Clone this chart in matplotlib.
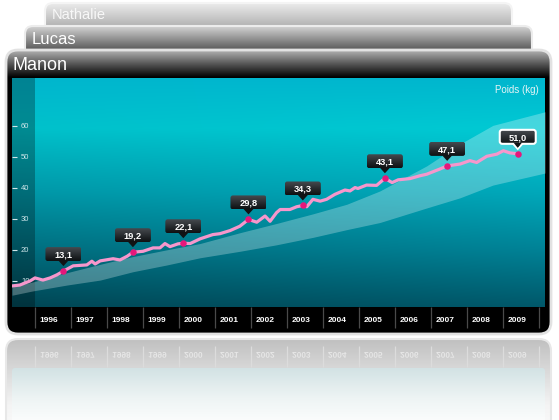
import numpy as np
import matplotlib
matplotlib.use('Agg')
import matplotlib.pyplot as plt
from matplotlib.patches import FancyBboxPatch, Polygon, PathPatch
from matplotlib.colors import LinearSegmentedColormap
from matplotlib.textpath import TextPath
from matplotlib.font_manager import FontProperties
from matplotlib.transforms import Affine2D

plt.rcParams['font.family'] = ['Liberation Sans', 'DejaVu Sans']

# ---- data -------------------------------------------------------------
tabs = ['Nathalie', 'Lucas', 'Manon']
years = list(range(1996, 2010))
year_labels = [str(y) for y in years]
yticks = [10, 20, 30, 40, 50, 60]

weight_x = [1995.36, 1995.58, 1995.86, 1996.00, 1996.22, 1996.42, 1996.61, 1996.79,
            1997.06, 1997.44, 1997.58, 1997.67, 1997.81, 1998.17, 1998.36, 1998.56,
            1998.72, 1999.00, 1999.28, 1999.47, 1999.61, 1999.75, 1999.97, 2000.12,
            2000.31, 2000.58, 2000.94, 2001.14, 2001.42, 2001.69, 2001.93, 2002.16,
            2002.39, 2002.53, 2002.71, 2002.81, 2003.08, 2003.27, 2003.44, 2003.55,
            2003.72, 2003.92, 2004.10, 2004.33, 2004.61, 2004.75, 2004.89, 2004.97,
            2005.21, 2005.49, 2005.72, 2005.92, 2006.09, 2006.42, 2006.69, 2006.88,
            2007.25, 2007.45, 2007.81, 2008.08, 2008.27, 2008.55, 2008.83, 2009.01,
            2009.19, 2009.41]
weight_y = [8.3, 8.6, 9.9, 10.9, 10.2, 10.9, 11.9, 13.1,
            14.8, 15.1, 16.3, 15.4, 16.4, 17.1, 16.7, 17.9,
            19.2, 19.5, 20.6, 20.6, 22.0, 21.0, 21.9, 22.1,
            22.0, 23.5, 24.9, 25.2, 26.2, 27.6, 29.8, 28.9,
            30.9, 29.2, 32.0, 33.0, 33.0, 33.9, 34.3, 33.9,
            36.3, 35.7, 36.3, 37.9, 39.3, 39.0, 40.1, 39.8,
            40.9, 40.8, 43.1, 41.7, 42.6, 43.0, 43.9, 44.4,
            46.1, 47.1, 47.7, 48.8, 48.2, 50.2, 50.9, 52.0,
            51.3, 51.0]

mark_x = [1996.79, 1998.72, 2000.12, 2001.93, 2003.44, 2005.72, 2007.45, 2009.41]
mark_y = [13.1, 19.2, 22.1, 29.8, 34.3, 43.1, 47.1, 51.0]
mark_labels = ['13,1', '19,2', '22,1', '29,8', '34,3', '43,1', '47,1', '51,0']

band_x = [1995.36, 1995.94, 1996.89, 1997.81, 1998.72, 1999.67, 2000.58, 2001.69,
          2002.71, 2003.72, 2004.66, 2005.58, 2006.88, 2007.81, 2008.72, 2010.17]
band_low = [5.3, 6.7, 8.6, 10.2, 12.9, 15.1, 17.4, 19.5,
            21.6, 24.0, 26.5, 28.8, 33.5, 36.8, 40.9, 44.8]
band_high = [8.0, 9.6, 12.6, 15.3, 17.8, 20.0, 22.0, 25.5,
             28.5, 31.6, 34.7, 39.0, 47.1, 54.2, 60.2, 64.6]

W, H = 559, 420
fig = plt.figure(figsize=(W / 100, H / 100), dpi=100)
fig.patch.set_facecolor('white')

bg = fig.add_axes([0, 0, 1, 1], zorder=0)
bg.axis('off')


def gradient_box(axis, x, y, w, h, r, stops, z, ec='none', lw=0):
    box = FancyBboxPatch((x, y), w, h, boxstyle=f'round,pad=0,rounding_size={r}',
                         fc='none', ec=ec, lw=lw, zorder=z + 0.5)
    axis.add_patch(box)
    cmap = LinearSegmentedColormap.from_list('g', stops)
    im = axis.imshow(np.linspace(0, 1, 256)[:, None], cmap=cmap, aspect='auto',
                     extent=(x, x + w, y + h, y), zorder=z, interpolation='bilinear')
    im.set_clip_path(box)
    return box


# tabs behind
gradient_box(bg, 45, 3, 467, 40, 8, [(0, '#ececec'), (0.58, '#b2b2b2'), (1, '#a0a0a0')],
             1, ec='#f4f4f4', lw=1.5)
bg.text(52, 15, tabs[0], color='#f8f8f8', fontsize=10.5, va='center', zorder=1.8)
gradient_box(bg, 25, 26, 507, 40, 8, [(0, '#d4d4d4'), (0.6, '#585858'), (1, '#444444')],
             2, ec='#ececec', lw=1.5)
bg.text(32, 40, tabs[1], color='white', fontsize=12, va='center', zorder=2.8)

# main frame
gradient_box(bg, 6, 50, 545, 284, 12,
             [(0, '#b0b0b0'), (0.045, '#5a5a5a'), (0.095, '#000000'), (1, '#000000')],
             3, ec='#e2e2e2', lw=2)
bg.text(12, 65, tabs[2], color='white', fontsize=13, va='center', zorder=3.8)

# reflection under the frame
gradient_box(bg, 6, 339, 545, 110, 12,
             [(0, '#c0c0c0'), (0.27, '#d8d8d8'), (0.6, '#f4f4f4'), (1, '#ffffff')],
             1, ec='#e8e8e8', lw=1.5)
gradient_box(bg, 12, 368, 533, 60, 3,
             [(0, '#d2e2e4'), (0.5, '#eef4f4'), (1, '#ffffff')], 1.6)

# ---- chart axes -------------------------------------------------------
ax = fig.add_axes([12 / W, 1 - 307 / H, 533 / W, 229 / H], zorder=2)
xmin, xmax = 1995.361, 2010.167
ymin, ymax = 1.5, 75.5

nh, nw = 230, 533
wv = np.linspace(0, 1, nh)[:, None]
uv = np.linspace(0, 1, nw)[None, :]
stops_w = [0, 0.22, 0.5, 0.75, 1.0]
g = np.interp(wv, stops_w, [182, 202, 168, 130, 88])
b = np.interp(wv, stops_w, [206, 212, 186, 150, 106])
fac = 1 - 0.2 * (1 - uv) * wv
rgb = np.zeros((nh, nw, 3))
rgb[..., 1] = g * fac / 255
rgb[..., 2] = b * fac / 255
ax.imshow(rgb, extent=(0, 1, 0, 1), transform=ax.transAxes, aspect='auto',
          zorder=0, interpolation='bilinear')

ax.axvspan(xmin, 1996, color='black', alpha=0.28, lw=0, zorder=1)
ax.fill_between(band_x, band_low, band_high, color='white', alpha=0.27, lw=0, zorder=2)
ax.plot(weight_x, weight_y, color='#f697cc', lw=2.3, zorder=3,
        solid_capstyle='round', solid_joinstyle='round')
ax.scatter(mark_x, mark_y, s=22, color='#e5177b', zorder=4, linewidths=0)

ax.set_xlim(xmin, xmax)
ax.set_ylim(ymin, ymax)
for s in ax.spines.values():
    s.set_visible(False)

ax.set_yticks(yticks)
ax.tick_params(axis='y', direction='in', length=3.6, width=0.8, color='#cfe6ea',
               labelcolor='#cfe6ea', labelsize=5.5, pad=-6.5)
for t in ax.get_yticklabels():
    t.set_horizontalalignment('left')

ax.set_xticks(list(range(1996, 2011)), labels=[''] * 15)
ax.set_xticks([y + 0.39 for y in years], labels=year_labels, minor=True)
ax.tick_params(axis='x', which='major', direction='out', length=15, width=0.9,
               color='#4a4a4a')
ax.tick_params(axis='x', which='minor', length=0, pad=7.5, labelsize=6,
               labelcolor='white')
for t in ax.get_xticklabels(minor=True):
    t.set_fontweight('bold')

ax.text(0.989, 0.948, 'Poids (kg)', transform=ax.transAxes, ha='right', va='center',
        color='#e6f4f6', fontsize=7)


def to_px(x, y):
    dx, dy = ax.transData.transform((x, y))
    return dx, H - dy


# mirrored year labels in the reflection
fp = FontProperties(family='Liberation Sans', weight='bold')
for yr in range(1996, 2011):
    sx, _ = to_px(yr, ymin)
    bg.vlines(sx, 346, 367, color='#dcdcdc', lw=0.9, zorder=1.7)
for yr, lab in zip(years, year_labels):
    cx, _ = to_px(yr + 0.39, ymin)
    tp = TextPath((0, 0), lab, size=8.3, prop=fp)
    wtp = tp.get_extents().width
    tr = Affine2D().translate(cx - wtp / 2, 352) + bg.transData
    bg.add_patch(PathPatch(tp, fc='#e6e6e6', ec='none', transform=tr, zorder=1.8))

bg.set_xlim(0, W)
bg.set_ylim(H, 0)

# ---- callouts ---------------------------------------------------------
top = fig.add_axes([0, 0, 1, 1], zorder=5)
top.axis('off')
top.patch.set_visible(False)
for i, (mx, my, lab) in enumerate(zip(mark_x, mark_y, mark_labels)):
    sx, sy = to_px(mx, my)
    last = i == len(mark_labels) - 1
    ec = 'white' if last else 'none'
    lw = 1.5 if last else 0
    top.add_patch(Polygon([(sx - 5, sy - 10.5), (sx + 5, sy - 10.5), (sx, sy - 5)],
                          closed=True, fc='#111315', ec=ec, lw=lw, zorder=6))
    gradient_box(top, sx - 18, sy - 24, 36, 14, 2.5,
                 [(0, '#464b50'), (1, '#0e1012')], 7, ec=ec, lw=lw)
    top.add_patch(Polygon([(sx - 4.2, sy - 11.2), (sx + 4.2, sy - 11.2), (sx, sy - 6)],
                          closed=True, fc='#111315', ec='none', zorder=8))
    top.text(sx, sy - 13.6, lab, ha='center', va='baseline', color='white',
             fontsize=6.7, fontweight='bold', zorder=9)
top.set_xlim(0, W)
top.set_ylim(H, 0)

fig.savefig('out.png', dpi=100)
